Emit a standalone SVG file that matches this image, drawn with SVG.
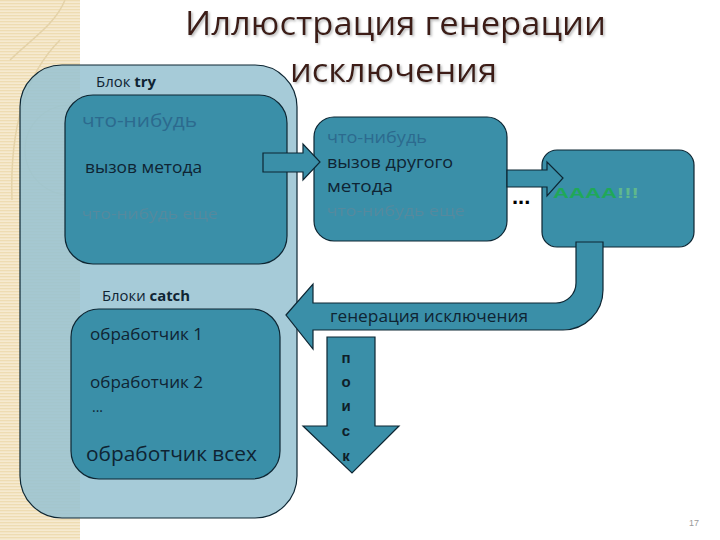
<svg xmlns="http://www.w3.org/2000/svg" width="720" height="540" viewBox="0 0 720 540">
<defs>
<pattern id="stripes" width="4" height="3" patternUnits="userSpaceOnUse">
<rect width="4" height="3" fill="#f6ead0"/>
<rect width="4" height="1.3" fill="#eedcb2"/>
</pattern>
<filter id="sh" x="-10%" y="-50%" width="120%" height="200%">
<feDropShadow dx="1.5" dy="1.5" stdDeviation="0.8" flood-color="#9a9a9a" flood-opacity="0.7"/>
</filter>
<style>
.box{fill:#3a8fa8;stroke:#0d2633;stroke-width:1.2}
.arr{fill:#3a8fa8;stroke:#0d2633;stroke-width:1.2;stroke-linejoin:miter}
.f{font-family:"Open Sans","Liberation Sans",sans-serif}
.dk{fill:#0f2433}
.bl{fill:#2c6a8e}
.faint{fill:#8a7f8c;opacity:0.35}
</style>
</defs>
<rect width="720" height="540" fill="#ffffff"/>
<g id="background">
<rect x="0" y="0" width="80" height="540" fill="url(#stripes)"/>
<path d="M10,60 C30,40 55,25 65,0" fill="none" stroke="#e4d2a8" stroke-width="1.5"/>
<path d="M12,200 C10,140 20,80 60,40" fill="none" stroke="#e4d2a8" stroke-width="1.5"/>
<circle cx="70" cy="150" r="45" fill="none" stroke="#e2d0a6" stroke-width="1.2" opacity="0.7"/>
</g>
<g id="title" filter="url(#sh)">
<text class="f" x="185" y="35" font-size="32" fill="#3d1e16" textLength="421" lengthAdjust="spacingAndGlyphs">Иллюстрация генерации</text>
<text class="f" x="290" y="82" font-size="32" fill="#3d1e16" textLength="207" lengthAdjust="spacingAndGlyphs">исключения</text>
</g>
<g id="outer-block">
<rect x="20" y="65" width="277" height="453" rx="42" fill="#96c2d1" fill-opacity="0.85" stroke="#0d2633" stroke-width="1.2"/>
<text class="f dk" x="96" y="87" font-size="14" textLength="60" lengthAdjust="spacingAndGlyphs">Блок <tspan font-weight="bold">try</tspan></text>
<text class="f dk" x="102" y="301" font-size="14" textLength="88" lengthAdjust="spacingAndGlyphs">Блоки <tspan font-weight="bold">catch</tspan></text>
</g>
<g id="try-block">
<rect class="box" x="65" y="95" width="222" height="169" rx="28"/>
<text class="f bl" x="82" y="127" font-size="19" textLength="115" lengthAdjust="spacingAndGlyphs">что-нибудь</text>
<text class="f dk" x="85" y="173" font-size="16" textLength="117" lengthAdjust="spacingAndGlyphs">вызов метода</text>
<text class="f faint" x="82" y="219" font-size="14" textLength="136" lengthAdjust="spacingAndGlyphs">что-нибудь еще</text>
</g>
<g id="catch-block">
<rect class="box" x="71" y="309" width="209" height="170" rx="28"/>
<text class="f dk" x="90" y="340" font-size="17" textLength="113" lengthAdjust="spacingAndGlyphs">обработчик 1</text>
<text class="f dk" x="90" y="388" font-size="17" textLength="113" lengthAdjust="spacingAndGlyphs">обработчик 2</text>
<text class="f dk" x="92" y="412" font-size="14">...</text>
<text class="f dk" x="86" y="461" font-size="20" textLength="171" lengthAdjust="spacingAndGlyphs">обработчик всех</text>
</g>
<g id="method-block">
<rect class="box" x="314" y="117" width="193" height="124" rx="20"/>
<text class="f bl" x="327" y="143" font-size="16" textLength="100" lengthAdjust="spacingAndGlyphs">что-нибудь</text>
<text class="f dk" x="327" y="168" font-size="16" textLength="126" lengthAdjust="spacingAndGlyphs">вызов другого</text>
<text class="f dk" x="327" y="192" font-size="16" textLength="66" lengthAdjust="spacingAndGlyphs">метода</text>
<text class="f faint" x="327" y="216" font-size="14" textLength="138" lengthAdjust="spacingAndGlyphs">что-нибудь еще</text>
</g>
<g id="error-block">
<rect class="box" x="542" y="150" width="152" height="97" rx="15"/>
<text x="553" y="198" font-family="'Liberation Sans',sans-serif" font-size="14" font-weight="bold" fill="#1fa858" textLength="86" lengthAdjust="spacingAndGlyphs">AAAA<tspan fill="#5fb88c">!!!</tspan></text>
</g>
<g id="connectors">
<path class="arr" d="M263,153 H303 V144 L320,162 L303,180 V172 H263 Z"/>
<path class="arr" d="M507,170 H547 V162 L563,178 L547,196 V187 H507 Z"/>
<text x="512" y="204" font-family="'Liberation Sans',sans-serif" font-size="22" font-weight="bold" fill="#000000">...</text>
<path class="arr" d="M286,315 L313,284 V303 H556 A20,20 0 0 0 576,283 V242 H603 V290 A40,40 0 0 1 563,330 H313 V349 Z"/>
<text class="f dk" x="330" y="322" font-size="17" textLength="198" lengthAdjust="spacingAndGlyphs">генерация исключения</text>
<path class="arr" d="M327,337 H375 V426 H399 L352,473 L303,426 H327 Z"/>
<g font-family="'Liberation Sans',sans-serif" font-size="15" font-weight="bold" fill="#0f1e28" text-anchor="middle">
<text x="346" y="363">п</text>
<text x="346" y="387">о</text>
<text x="346" y="411">и</text>
<text x="346" y="436">с</text>
<text x="346" y="461">к</text>
</g>
</g>
<text x="689" y="526" font-family="'Liberation Sans',sans-serif" font-size="9" fill="#9a9a9a">17</text>
</svg>
